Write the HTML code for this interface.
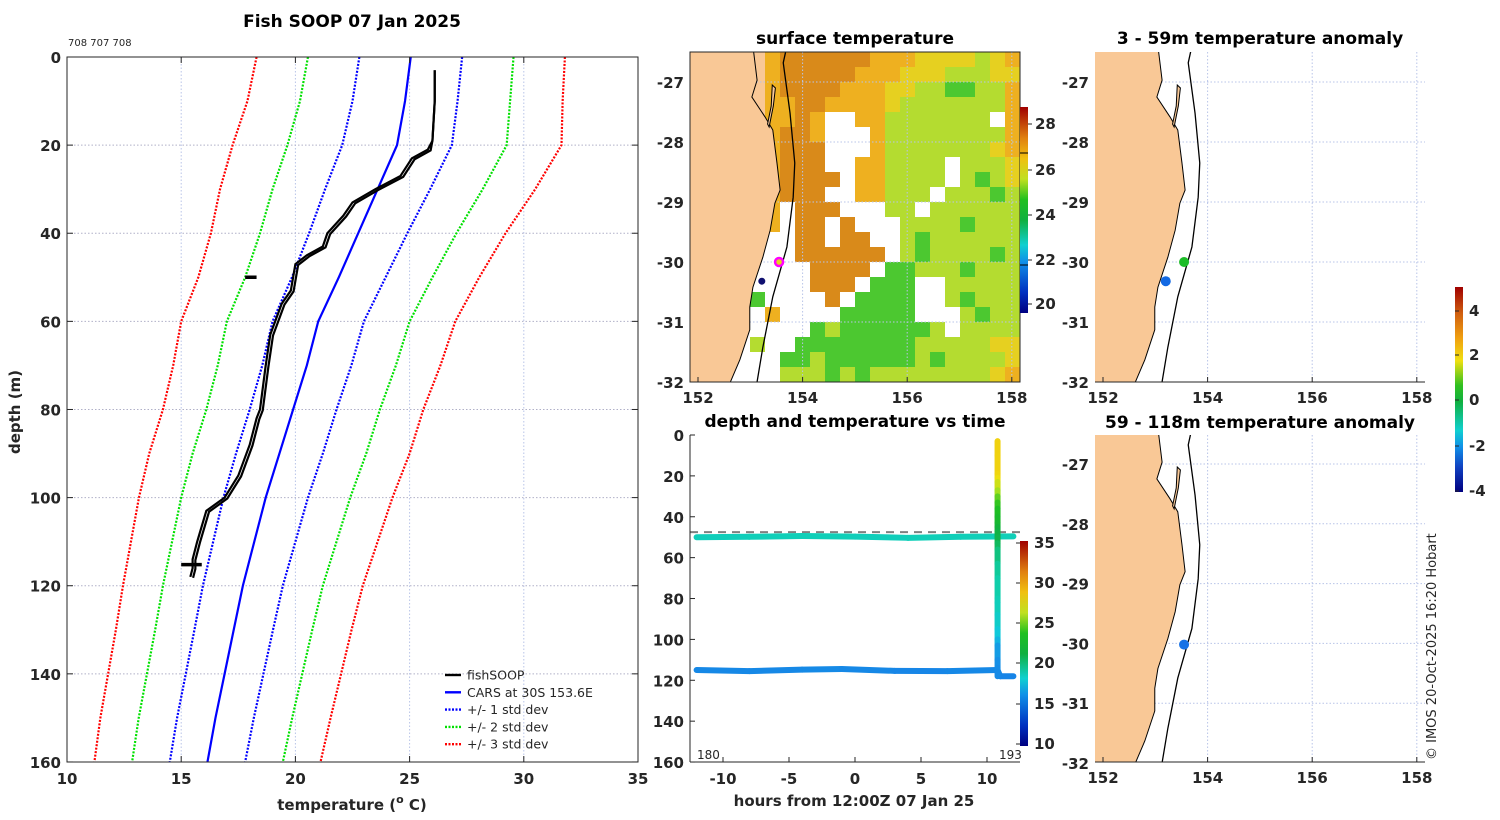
<!DOCTYPE html>
<html><head><meta charset="utf-8"><style>
html,body{margin:0;padding:0;background:#fff}
svg{display:block}
text{font-family:"DejaVu Sans","Liberation Sans",sans-serif;fill:#262626}
.t{font-weight:bold;font-size:17px;fill:#000}
.k{font-weight:bold;font-size:15px}
</style></head><body>
<svg id="s" width="1500" height="820" viewBox="0 0 1500 820" xmlns="http://www.w3.org/2000/svg">
<defs>
<clipPath id="cM"><rect x="67" y="57" width="571" height="705"/></clipPath>
<clipPath id="cS"><rect x="690" y="52" width="330" height="330"/></clipPath>
<clipPath id="cA"><rect x="1095" y="52" width="330" height="330"/></clipPath>
<clipPath id="cB"><rect x="1095" y="435" width="330" height="327"/></clipPath>
<clipPath id="cT"><rect x="690" y="435" width="330" height="327"/></clipPath>
<linearGradient id="gS" x1="0" y1="1" x2="0" y2="0">
<stop offset="0" stop-color="#000080"/><stop offset="0.1" stop-color="#0030c0"/><stop offset="0.25" stop-color="#1090e8"/><stop offset="0.33" stop-color="#10d0d0"/><stop offset="0.45" stop-color="#10b040"/><stop offset="0.55" stop-color="#20c020"/><stop offset="0.65" stop-color="#c0e020"/><stop offset="0.75" stop-color="#f0c010"/><stop offset="0.85" stop-color="#e08010"/><stop offset="1" stop-color="#a00000"/></linearGradient>
<linearGradient id="gA" x1="0" y1="1" x2="0" y2="0">
<stop offset="0" stop-color="#000080"/><stop offset="0.12" stop-color="#1040c0"/><stop offset="0.22" stop-color="#1090e8"/><stop offset="0.3" stop-color="#10d0d0"/><stop offset="0.44" stop-color="#10b040"/><stop offset="0.52" stop-color="#30c020"/><stop offset="0.64" stop-color="#f0e010"/><stop offset="0.75" stop-color="#f0a010"/><stop offset="0.87" stop-color="#d06010"/><stop offset="1" stop-color="#a00000"/></linearGradient>
</defs>
<g id="main"></g>
<g id="sst"></g>
<g id="ts"></g>
<g id="anA"></g>
<g id="anB"></g>
<text x="1436" y="760" transform="rotate(-90 1436 760)" font-size="13">© IMOS 20-Oct-2025 16:20 Hobart</text>
</svg>
<script>
// ---------- data ----------
const carsDepth=[0,10,20,30,40,50,60,70,80,90,100,110,120,130,140,150,160];
const carsMean=[25.05,24.8,24.45,23.6,22.75,21.9,21.0,20.5,19.9,19.3,18.7,18.2,17.7,17.3,16.9,16.5,16.15];
const carsStd=[2.25,2.3,2.4,2.3,2.15,2.05,2.0,1.95,1.9,1.9,1.85,1.8,1.75,1.72,1.7,1.68,1.65];
const fishDepth=[3,10,19,21,23,27,30,33,36,40,43,45,47,50,53,56,63,70,80,82,88,95,100,103,110,114,116,118];
const fishTemp=[26.1,26.1,26.0,25.8,25.1,24.6,23.5,22.5,22.1,21.4,21.2,20.5,20.0,19.9,19.8,19.4,18.9,18.7,18.45,18.3,18.0,17.5,16.9,16.1,15.7,15.5,15.5,15.4];
const xTicks=[10,15,20,25,30,35];
const yTicks=[0,20,40,60,80,100,120,140,160];
const hrsUp=[-12,-8,-4,0,4,8,12];
const depUp=[50,49.8,49.4,49.7,50.3,49.8,49.6];
const tmpUp=[18.2,18.2,18.3,18.2,18.2,18.3,18.2];
const hrsLo=[-12,-8,-4,-1,3,7,10.8,11,12];
const depLo=[115,115.5,114.8,114.5,115.4,115.5,115,118,118];
const tmpLo=[15.4,15.4,15.4,15.5,15.3,15.4,15.4,15.3,15.3];
const castHour=10.8;
const hourTicks=[-10,-5,0,5,10];
const sstGrid=[
"LLLLLyooooooyyyYYYYGYy","LLLLLyoooooyyyYYYGGGYY","LLLLLyooooyyyYYGGggGGy","LLLLLyyooyyyyYGGGGGGGy",
"LLLLLyyoywwyyGGGGGGGwy","LLLLLyooywwwyGGGGGGGGy","LLLLLyooowwwyGGGGGGGYy","LLLLLyooowwyyGGGGwGGGY",
"LLLLLyoooowyyGGGGwGgGY","LLLLyyooowwyyGGGwGGGgG","LLLLyywooowwwGGwGGGGGG","LLLLyywoowowwwGGGGgGGG",
"LLLLywwoowoowwGgGGGGGG","LLLLwwwoooooowGgGGGGgGG","LLLLwwwwoooowggGGGgGGG","LLLLwwwwooowgggwwGGGGG",
"LLLLgwwwwowggggwwGgGGG","LLLLwywwwwgggggwwwGgGG","LLLwwwwwgGggggggGwGGGGG","LLLwGwwggggggggGGGGGYY",
"LLwwwwggGggggggGgGGGGYy","LLwwwwGGGgGgGGGGGGGGYy"];
const sstColor={L:"#f9c896",o:"#d98a1a",y:"#eeb020",Y:"#e6d020",G:"#b4dc30",g:"#4cc830",w:"#ffffff"};
const coastLon=[153.05,153.13,153.03,153.28,153.43,153.51,153.57,153.47,153.38,153.24,153.05,152.99,152.99,152.8,152.57];
const coastLat=[-26.4,-26.97,-27.25,-27.58,-27.8,-28.35,-28.8,-29.02,-29.47,-29.92,-30.42,-30.75,-31.13,-31.63,-32.1];
const shelfLon=[153.7,153.63,153.76,153.85,153.82,153.7,153.43,153.24,153.11];
const shelfLat=[-26.4,-26.68,-27.52,-28.35,-28.92,-29.75,-30.58,-31.42,-32.1];
const lonTicks=[152,154,156,158];
const latTicks=[-27,-28,-29,-30,-31,-32];
const anomA={lon:[153.55,153.2],lat:[-30,-30.32],val:[0.2,-2.4]};
const anomB={lon:[153.55],lat:[-30.02],val:[-2.3]};

// ---------- helpers ----------
const NS="http://www.w3.org/2000/svg";
function mk(p,tag,at,txt){const e=document.createElementNS(NS,tag);for(const k in at)e.setAttribute(k,at[k]);if(txt!==undefined)e.textContent=txt;p.appendChild(e);return e;}
function tcol(t){const st=[[10,[0,0,128]],[13,[0,48,208]],[15,[24,120,232]],[17,[16,200,224]],[18.5,[16,208,176]],[20,[16,176,64]],[22,[32,192,32]],[24,[160,224,32]],[25.5,[240,224,16]],[28,[240,160,16]],[31,[208,96,16]],[35,[160,0,0]]];
 if(t<=st[0][0])return "rgb("+st[0][1]+")";for(let i=1;i<st.length;i++){if(t<=st[i][0]){const f=(t-st[i-1][0])/(st[i][0]-st[i-1][0]);const c=st[i-1][1].map((v,j)=>Math.round(v+f*(st[i][1][j]-v)));return "rgb("+c+")";}}return "rgb(160,0,0)";}
function acol(v){return tcol(10+(v+4.1)/9.3*25);}

// ---------- main profile ----------
const M=document.getElementById('main');
const X=t=>67+(t-10)*22.84, Y=d=>57+d*4.406;
xTicks.slice(1,-1).forEach(t=>{const l=mk(M,'line',{x1:X(t),x2:X(t),y1:57,y2:762,stroke:'#b8c4e8','stroke-dasharray':'1.5 2','stroke-width':1});});
yTicks.slice(1,-1).forEach(d=>{const l=mk(M,'line',{x1:67,x2:638,y1:Y(d),y2:Y(d),stroke:'#b0b0c8','stroke-dasharray':'1.5 2','stroke-width':1});});
const cg=mk(M,'g',{'clip-path':'url(#cM)'});
const lines=[[3,'#ff0000','red'],[2,'#00e000','green'],[1,'#0000ff','blue']];
lines.forEach(([k,c,n])=>{[-1,1].forEach(s=>{const pts=carsDepth.map((d,i)=>X(carsMean[i]+s*k*carsStd[i])+','+Y(d)).join(' ');const p=mk(cg,'polyline',{points:pts,fill:'none',stroke:c,'stroke-width':2.2,'stroke-dasharray':'2 1.5'});});});
const cm=mk(cg,'polyline',{points:carsDepth.map((d,i)=>X(carsMean[i])+','+Y(d)).join(' '),fill:'none',stroke:'#0000ff','stroke-width':2.2});

[[0,0],[0.12,0.9]].forEach((o,j)=>{const p=mk(cg,'polyline',{points:fishDepth.map((d,i)=>X(fishTemp[i]+(i>2?o[0]:0))+','+(Y(d)+(i>2?o[1]:0))).join(' '),fill:'none',stroke:'#000','stroke-width':2.2});});
const bl1=mk(cg,'path',{d:`M${X(17.8)} ${Y(50)} L${X(18.3)} ${Y(50)} M${X(15)} ${Y(115.2)} L${X(15.9)} ${Y(115.2)}`,stroke:'#000','stroke-width':3.5});

const fr=mk(M,'rect',{x:67,y:57,width:571,height:705,fill:'none',stroke:'#262626','stroke-width':1});

xTicks.forEach(t=>{mk(M,'line',{x1:X(t),x2:X(t),y1:762,y2:756,stroke:'#262626'});mk(M,'line',{x1:X(t),x2:X(t),y1:57,y2:63,stroke:'#262626'});const e=mk(M,'text',{x:X(t),y:784,'text-anchor':'middle',class:'k','font-size':16},t);});
yTicks.forEach(d=>{mk(M,'line',{x1:67,x2:73,y1:Y(d),y2:Y(d),stroke:'#262626'});mk(M,'line',{x1:638,x2:632,y1:Y(d),y2:Y(d),stroke:'#262626'});const e=mk(M,'text',{x:61,y:Y(d)+6,'text-anchor':'end',class:'k','font-size':16},d);});
let e;
e=mk(M,'text',{x:352,y:27,'text-anchor':'middle',class:'t'},'Fish SOOP 07 Jan 2025');
e=mk(M,'text',{x:68,y:46,'font-size':10,fill:'#000'},'708 707 708');
e=mk(M,'text',{x:20,y:412,transform:'rotate(-90 20 412)','text-anchor':'middle',class:'k','font-size':17},'depth (m)');
e=mk(M,'text',{x:352,y:810,'text-anchor':'middle',class:'k','font-size':18});e.innerHTML='temperature (<tspan font-size="11" dy="-7">o</tspan><tspan dy="7"> C)</tspan>';
const leg=[['fishSOOP','#000',''],['CARS at 30S 153.6E','#0000ff',''],['+/- 1 std dev','#0000ff','2 1.5'],['+/- 2 std dev','#00e000','2 1.5'],['+/- 3 std dev','#ff0000','2 1.5']];
leg.forEach((l,i)=>{const yy=675+i*17.3;const g=mk(M,'g',{});mk(g,'line',{x1:445,x2:461,y1:yy,y2:yy,stroke:l[1],'stroke-width':2.4,'stroke-dasharray':l[2]||'none'});mk(g,'text',{x:467,y:yy+4.5,'font-size':12.5,fill:'#262626'},l[0]);});

// ---------- map helpers ----------
function mapPanel(G,clip,px0,py0,sy){
 const P=(lon,lat)=>[px0+(lon-152)*52.3,py0+(-27-lat)*sy];
 const c=mk(G,'g',{'clip-path':'url(#'+clip+')'});
 return {P,c};
}
function drawCoast(c,P,left){
 const pts=coastLon.map((l,i)=>P(l,coastLat[i]));
 const poly=[[left,pts[0][1]],...pts,[left,pts[pts.length-1][1]]].map(p=>p.join(',')).join(' ');
 const land=mk(c,'polygon',{points:poly,fill:'#f9c896',stroke:'#000','stroke-width':1});
 const is=[P(153.42,-27.05),P(153.48,-27.1),P(153.44,-27.4),P(153.36,-27.75),P(153.33,-27.7),P(153.4,-27.4)].map(p=>p.join(',')).join(' ');
 const il=mk(c,'polygon',{points:is,fill:'#f9c896',stroke:'#000','stroke-width':1});
 const sh=mk(c,'polyline',{points:shelfLon.map((l,i)=>P(l,shelfLat[i]).join(',')).join(' '),fill:'none',stroke:'#000','stroke-width':1.3});
}
function grid(G,P,x0,x1,y0,y1){
 lonTicks.slice(1).forEach(l=>{const x=P(l,-27)[0];const g=mk(G,'line',{x1:x,x2:x,y1:y0,y2:y1,stroke:'#b8c4e8','stroke-dasharray':'1.5 2'});});
 latTicks.slice(0,-1).forEach(l=>{const y=P(152,l)[1];const g=mk(G,'line',{x1:x0,x2:x1,y1:y,y2:y,stroke:'#b8c4e8','stroke-dasharray':'1.5 2'});});
}
function axes(G,P,x0,x1,y1){
 mk(G,'line',{x1:x0,x2:x1,y1:y1,y2:y1,stroke:'#262626'});
 lonTicks.forEach(l=>{const x=P(l,-27)[0];mk(G,'line',{x1:x,x2:x,y1:y1,y2:y1-5,stroke:'#262626'});const t=mk(G,'text',{x:x,y:y1+21,'text-anchor':'middle',class:'k','font-size':16},l);});
 latTicks.forEach(l=>{const y=P(152,l)[1];const t=mk(G,'text',{x:x0-6,y:y+6,'text-anchor':'end',class:'k','font-size':16},l);});
}

// ---------- SST map ----------
const S=document.getElementById('sst');
{const {P,c}=mapPanel(S,'cS',698,82,60);
 sstGrid.forEach((row,r)=>{for(let k=0;k<22;k++){const ch=row[k]||'G';const rc=mk(c,'rect',{x:690+k*15,y:52+r*15,width:15.5,height:15.5,fill:sstColor[ch]});}});
 grid(c,P,690,1020,52,382);
 drawCoast(c,P,680);
 const d1=mk(c,'circle',{cx:P(153.55,-30)[0],cy:P(153.55,-30)[1],r:4,fill:'#e6d020',stroke:'#ff00ff','stroke-width':2.5});
 const d2=mk(c,'circle',{cx:P(153.22,-30.32)[0],cy:P(153.22,-30.32)[1],r:4,fill:'#101070',stroke:'#fff','stroke-width':1});
 mk(S,'rect',{x:690,y:52,width:330,height:330,fill:'none',stroke:'#262626'});
 axes(S,P,690,1020,382);
 e=mk(S,'text',{x:855,y:44,'text-anchor':'middle',class:'t'},'surface temperature');
 const cb=mk(S,'rect',{x:1020,y:107,width:8,height:206,fill:'url(#gS)'});
 mk(S,'line',{x1:1020,x2:1028,y1:153,y2:153,stroke:'#000'});mk(S,'line',{x1:1020,x2:1028,y1:265,y2:265,stroke:'#000'});
 [[28,124],[26,170],[24,215],[22,260],[20,304]].forEach(([v,y])=>{mk(S,'line',{x1:1028,x2:1032,y1:y,y2:y,stroke:'#262626'});const t=mk(S,'text',{x:1035,y:y+5,class:'k','font-size':13},v);});
}

// ---------- depth vs time ----------
const T=document.getElementById('ts');
{const HX=h=>855+h*13.2, DY=d=>435+d*2.044;
 const c=mk(T,'g',{'clip-path':'url(#cT)'});
 const dl=mk(c,'line',{x1:690,x2:1020,y1:DY(47.5),y2:DY(47.5),stroke:'#808080','stroke-width':2,'stroke-dasharray':'8 6'});
 function seg(hs,ds,ts,name){for(let i=1;i<hs.length;i++){const l=mk(c,'line',{x1:HX(hs[i-1]),y1:DY(ds[i-1]),x2:HX(hs[i]),y2:DY(ds[i]),stroke:tcol((ts[i]+ts[i-1])/2),'stroke-width':6,'stroke-linecap':'round'});}}
 seg(hrsUp,depUp,tmpUp,'upper-logger-track');
 seg(hrsLo,depLo,tmpLo,'lower-logger-track');
 seg(fishDepth.map(()=>castHour),fishDepth,fishTemp,'profile-cast-track');
 mk(T,'line',{x1:690,x2:690,y1:435,y2:762,stroke:'#262626'});mk(T,'line',{x1:690,x2:1020,y1:762,y2:762,stroke:'#262626'});
 hourTicks.forEach(h=>{mk(T,'line',{x1:HX(h),x2:HX(h),y1:762,y2:757,stroke:'#262626'});const t=mk(T,'text',{x:HX(h),y:784,'text-anchor':'middle',class:'k','font-size':16},h);});
 yTicks.forEach(d=>{mk(T,'line',{x1:690,x2:695,y1:DY(d),y2:DY(d),stroke:'#262626'});const t=mk(T,'text',{x:684,y:DY(d)+6,'text-anchor':'end',class:'k','font-size':16},d);});
 e=mk(T,'text',{x:697,y:759,'font-size':12,fill:'#000'},'180');
 e=mk(T,'text',{x:999,y:759,'font-size':12,fill:'#000'},'193');
 e=mk(T,'text',{x:855,y:427,'text-anchor':'middle',class:'t'},'depth and temperature vs time');
 e=mk(T,'text',{x:854,y:806,'text-anchor':'middle',class:'k','font-size':17.5},'hours from 12:00Z 07 Jan 25');
 const cb=mk(T,'rect',{x:1020,y:541,width:8,height:205,fill:'url(#gS)'});
 [[35,543],[30,583],[25,623],[20,663],[15,704],[10,744]].forEach(([v,y])=>{mk(T,'line',{x1:1016,x2:1020,y1:y,y2:y,stroke:'#262626'});const t=mk(T,'text',{x:1034,y:y+5,class:'k','font-size':13},v);});
}

// ---------- anomaly maps ----------
function anomPanel(G,clip,py0,sy,top,bottom,title,ty,dots){
 const {P,c}=mapPanel(G,clip,1103,py0,sy);
 grid(c,P,1095,1425,top,bottom);
 drawCoast(c,P,1085);
 dots.lon.forEach((l,i)=>{const p=P(l,dots.lat[i]);const d=mk(c,'circle',{cx:p[0],cy:p[1],r:5,fill:acol(dots.val[i])});});
 axes(G,P,1095,1425,bottom);
 const t=mk(G,'text',{x:1260,y:ty,'text-anchor':'middle',class:'t'},title);
}
anomPanel(document.getElementById('anA'),'cA',82,60,52,382,'3 - 59m temperature anomaly',44,anomA);
anomPanel(document.getElementById('anB'),'cB',464,59.8,435,762,'59 - 118m temperature anomaly',428,anomB);
{const A=document.getElementById('anA');
 const cb=mk(A,'rect',{x:1455,y:287,width:8,height:205,fill:'url(#gA)'});
 [[4,311],[2,355],[0,400],[-2,446],[-4,491]].forEach(([v,y])=>{mk(A,'line',{x1:1455,x2:1459,y1:y,y2:y,stroke:'#262626'});const t=mk(A,'text',{x:1469,y:y+5,class:'k','font-size':13},v);});
}
</script>
</body></html>
